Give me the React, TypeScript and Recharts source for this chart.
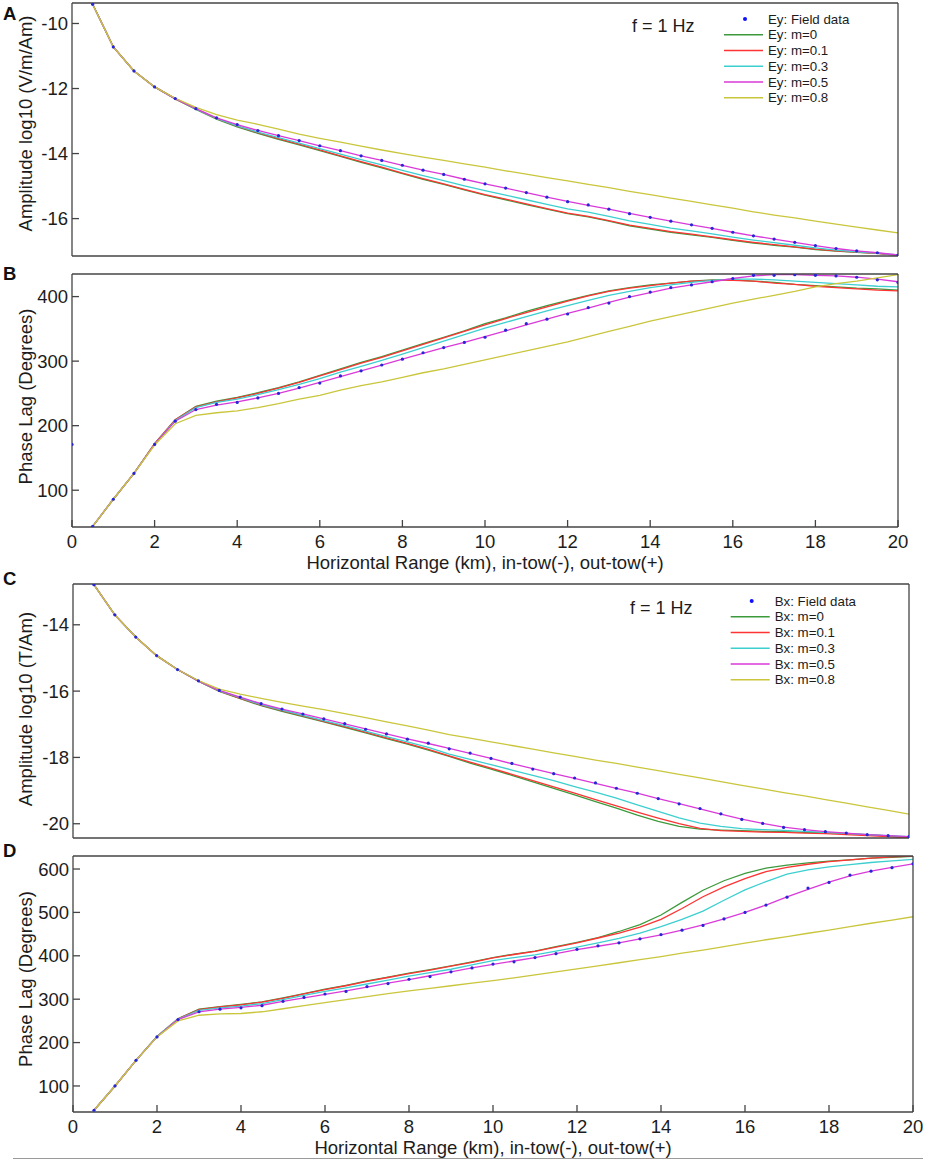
import React from 'react'
import { LineChart, Line, XAxis, YAxis, Legend } from 'recharts'

// ── Data ─────────────────────────────────────────────────────────────────────
// horizontal range in km (first row only carries a field value in panel B)
const RANGE_KM = [
  0, 0.5, 1, 1.5, 2, 2.5, 3, 3.5, 4, 4.5, 5, 5.5, 6, 6.5, 7, 7.5, 8, 8.5, 9, 9.5, 10,
  10.5, 11, 11.5, 12, 12.5, 13, 13.5, 14, 14.5, 15, 15.5, 16, 16.5, 17, 17.5, 18, 18.5, 19, 19.5, 20,
]

const X_TICKS = [0, 2, 4, 6, 8, 10, 12, 14, 16, 18, 20]

// A: Ey amplitude, log10 (V/m/Am)
const EY_AMP_FIELD = [null, -9.41, -10.72, -11.46, -11.95, -12.31, -12.62, -12.90, -13.11, -13.29, -13.45, -13.60, -13.76, -13.91, -14.07, -14.21, -14.36, -14.51, -14.64, -14.79, -14.93, -15.06, -15.20, -15.34, -15.48, -15.58, -15.71, -15.85, -15.96, -16.08, -16.19, -16.30, -16.42, -16.53, -16.63, -16.73, -16.83, -16.92, -16.99, -17.05, -17.12]
const EY_AMP_M0 = [null, -9.41, -10.72, -11.46, -11.95, -12.32, -12.64, -12.94, -13.18, -13.38, -13.56, -13.73, -13.91, -14.09, -14.27, -14.44, -14.62, -14.79, -14.95, -15.12, -15.28, -15.42, -15.57, -15.71, -15.85, -15.95, -16.08, -16.22, -16.32, -16.42, -16.50, -16.58, -16.67, -16.75, -16.82, -16.88, -16.95, -17.00, -17.04, -17.07, -17.13]
const EY_AMP_M01 = [null, -9.41, -10.72, -11.46, -11.95, -12.32, -12.63, -12.92, -13.16, -13.36, -13.54, -13.71, -13.89, -14.07, -14.25, -14.42, -14.60, -14.77, -14.93, -15.10, -15.26, -15.40, -15.55, -15.69, -15.83, -15.93, -16.06, -16.20, -16.30, -16.40, -16.48, -16.56, -16.65, -16.73, -16.80, -16.87, -16.94, -16.99, -17.03, -17.07, -17.13]
const EY_AMP_M03 = [null, -9.41, -10.72, -11.46, -11.95, -12.31, -12.63, -12.92, -13.15, -13.34, -13.51, -13.68, -13.85, -14.02, -14.19, -14.35, -14.52, -14.68, -14.83, -14.99, -15.14, -15.28, -15.42, -15.56, -15.70, -15.80, -15.93, -16.07, -16.18, -16.29, -16.38, -16.47, -16.57, -16.66, -16.74, -16.82, -16.90, -16.97, -17.02, -17.06, -17.12]
const EY_AMP_M05 = [null, -9.41, -10.72, -11.46, -11.95, -12.31, -12.62, -12.90, -13.11, -13.29, -13.45, -13.60, -13.76, -13.91, -14.07, -14.21, -14.36, -14.51, -14.64, -14.79, -14.93, -15.06, -15.20, -15.34, -15.47, -15.59, -15.71, -15.84, -15.96, -16.08, -16.19, -16.30, -16.42, -16.53, -16.63, -16.73, -16.83, -16.92, -16.99, -17.05, -17.12]
const EY_AMP_M08 = [null, -9.41, -10.72, -11.46, -11.95, -12.30, -12.58, -12.80, -12.97, -13.10, -13.25, -13.40, -13.53, -13.65, -13.77, -13.89, -14.00, -14.11, -14.21, -14.32, -14.42, -14.53, -14.63, -14.74, -14.84, -14.95, -15.05, -15.16, -15.26, -15.37, -15.47, -15.58, -15.68, -15.79, -15.89, -15.98, -16.08, -16.17, -16.26, -16.35, -16.44]

// B: Ey phase lag (degrees)
const EY_PHA_FIELD = [171, 44, 86, 126, 171, 207, 225, 233, 236, 243, 250, 259, 266, 277, 285, 294, 303, 313, 321, 329, 337, 348, 358, 365, 373, 383, 390, 400, 407, 414, 418, 423, 428, 433, 433, 434, 433, 432, 430, 426, 422]
const EY_PHA_M0 = [null, 44, 86, 126, 172, 209, 230, 238, 244, 251, 259, 268, 278, 288, 298, 307, 317, 327, 337, 347, 358, 367, 377, 386, 394, 402, 409, 414, 418, 421, 424, 426, 426, 424, 422, 419, 417, 415, 413, 412, 410]
const EY_PHA_M01 = [null, 44, 86, 126, 172, 209, 229, 237, 243, 250, 258, 267, 277, 287, 297, 306, 316, 326, 336, 346, 356, 366, 375, 384, 393, 401, 408, 413, 417, 421, 424, 425, 425, 424, 421, 419, 416, 414, 412, 410, 409]
const EY_PHA_M03 = [null, 44, 86, 126, 171, 208, 228, 236, 241, 248, 256, 264, 273, 283, 292, 301, 311, 321, 331, 341, 351, 360, 369, 378, 386, 394, 402, 408, 414, 418, 422, 425, 427, 427, 426, 424, 422, 420, 418, 416, 415]
const EY_PHA_M05 = [null, 44, 86, 126, 171, 207, 225, 232, 237, 243, 250, 258, 267, 276, 285, 294, 303, 312, 321, 329, 338, 347, 356, 365, 374, 382, 391, 399, 406, 413, 418, 423, 428, 432, 434, 434, 433, 432, 430, 427, 423]
const EY_PHA_M08 = [null, 44, 86, 126, 170, 203, 216, 220, 223, 228, 234, 241, 247, 255, 262, 268, 275, 282, 288, 295, 302, 309, 316, 323, 330, 338, 346, 354, 362, 369, 376, 383, 390, 396, 402, 408, 415, 420, 424, 429, 434]

// C: Bx amplitude, log10 (T/Am)
const BX_AMP_FIELD = [null, -12.79, -13.70, -14.37, -14.93, -15.35, -15.69, -15.98, -16.18, -16.38, -16.54, -16.69, -16.84, -16.98, -17.15, -17.29, -17.45, -17.57, -17.74, -17.87, -18.03, -18.18, -18.35, -18.49, -18.62, -18.77, -18.93, -19.08, -19.24, -19.40, -19.54, -19.70, -19.87, -19.99, -20.11, -20.18, -20.24, -20.28, -20.33, -20.36, -20.39]
const BX_AMP_M0 = [null, -12.79, -13.70, -14.37, -14.93, -15.35, -15.70, -16.01, -16.23, -16.44, -16.61, -16.77, -16.93, -17.09, -17.26, -17.43, -17.60, -17.78, -17.97, -18.17, -18.35, -18.54, -18.74, -18.93, -19.13, -19.33, -19.53, -19.74, -19.93, -20.08, -20.16, -20.19, -20.21, -20.23, -20.24, -20.26, -20.27, -20.30, -20.33, -20.37, -20.41]
const BX_AMP_M01 = [null, -12.79, -13.70, -14.37, -14.93, -15.35, -15.70, -16.00, -16.22, -16.42, -16.59, -16.75, -16.91, -17.07, -17.24, -17.41, -17.58, -17.76, -17.95, -18.14, -18.32, -18.51, -18.70, -18.89, -19.08, -19.27, -19.46, -19.65, -19.83, -20.00, -20.14, -20.21, -20.23, -20.25, -20.26, -20.28, -20.30, -20.33, -20.36, -20.39, -20.43]
const BX_AMP_M03 = [null, -12.79, -13.70, -14.37, -14.93, -15.35, -15.69, -15.99, -16.20, -16.41, -16.57, -16.73, -16.89, -17.04, -17.21, -17.37, -17.53, -17.70, -17.90, -18.06, -18.22, -18.38, -18.54, -18.70, -18.88, -19.05, -19.23, -19.43, -19.63, -19.82, -19.98, -20.08, -20.15, -20.18, -20.20, -20.23, -20.26, -20.29, -20.33, -20.36, -20.39]
const BX_AMP_M05 = [null, -12.79, -13.70, -14.37, -14.93, -15.35, -15.69, -15.98, -16.18, -16.38, -16.54, -16.69, -16.84, -16.99, -17.14, -17.29, -17.44, -17.58, -17.73, -17.88, -18.03, -18.19, -18.34, -18.49, -18.63, -18.78, -18.93, -19.08, -19.24, -19.39, -19.55, -19.71, -19.86, -19.99, -20.10, -20.18, -20.24, -20.28, -20.33, -20.36, -20.39]
const BX_AMP_M08 = [null, -12.79, -13.70, -14.37, -14.93, -15.35, -15.68, -15.94, -16.09, -16.22, -16.34, -16.45, -16.56, -16.68, -16.80, -16.93, -17.05, -17.18, -17.31, -17.42, -17.53, -17.64, -17.75, -17.86, -17.97, -18.08, -18.18, -18.29, -18.40, -18.51, -18.62, -18.73, -18.84, -18.95, -19.06, -19.16, -19.27, -19.38, -19.49, -19.60, -19.71]

// D: Bx phase lag (degrees)
const BX_PHA_FIELD = [null, 44, 100, 159, 213, 253, 271, 277, 280, 285, 295, 304, 312, 318, 329, 336, 346, 352, 363, 372, 381, 386, 396, 405, 415, 423, 430, 439, 449, 459, 470, 485, 500, 517, 535, 556, 569, 586, 595, 603, 612]
const BX_PHA_M0 = [null, 44, 100, 159, 214, 255, 277, 283, 288, 294, 303, 313, 323, 332, 342, 351, 360, 368, 377, 386, 396, 404, 411, 421, 431, 442, 456, 472, 494, 523, 551, 573, 590, 602, 609, 614, 618, 621, 625, 627, 629]
const BX_PHA_M01 = [null, 44, 100, 159, 214, 255, 276, 282, 287, 293, 302, 312, 322, 331, 341, 350, 359, 367, 376, 385, 395, 403, 410, 420, 430, 441, 452, 466, 484, 509, 536, 559, 578, 594, 604, 611, 617, 621, 625, 628, 630]
const BX_PHA_M03 = [null, 44, 100, 159, 214, 254, 274, 280, 284, 290, 299, 309, 318, 326, 335, 344, 353, 361, 369, 379, 389, 396, 402, 411, 420, 430, 440, 452, 467, 484, 503, 528, 552, 571, 588, 598, 605, 610, 615, 619, 622]
const BX_PHA_M05 = [null, 44, 100, 159, 213, 253, 271, 277, 281, 286, 295, 303, 311, 319, 328, 337, 345, 354, 363, 372, 380, 388, 396, 405, 414, 422, 430, 439, 448, 459, 471, 485, 500, 517, 536, 553, 570, 584, 595, 604, 612]
const BX_PHA_M08 = [null, 44, 100, 159, 213, 250, 263, 266, 267, 271, 278, 285, 292, 299, 306, 313, 319, 325, 331, 337, 343, 349, 356, 363, 370, 377, 384, 391, 398, 406, 413, 421, 429, 437, 444, 452, 459, 467, 475, 482, 490]

// ── Styling ──────────────────────────────────────────────────────────────────
const FONT = '"Liberation Sans", Arial, Helvetica, sans-serif'
const INK = '#1c1c1c'
const AXIS = '#444444'
const PAGE_W = 927

const SERIES = [
  { key: 'm0',  label: 'm=0',   color: '#3c9a3c' },
  { key: 'm01', label: 'm=0.1', color: '#ff3333' },
  { key: 'm03', label: 'm=0.3', color: '#3dcfcf' },
  { key: 'm05', label: 'm=0.5', color: '#d93ad9' },
  { key: 'm08', label: 'm=0.8', color: '#c9c63c' },
]
const FIELD_COLOR = '#2626d6'

type Num = number | null

function buildRows(field: Num[], m0: Num[], m01: Num[], m03: Num[], m05: Num[], m08: Num[]) {
  return RANGE_KM.map((x, i) => ({
    x, field: field[i], m0: m0[i], m01: m01[i], m03: m03[i], m05: m05[i], m08: m08[i],
  }))
}

// ── Legend (drawn through Recharts' Legend slot) ─────────────────────────────
function FigureLegend({ prefix, shift, fx }: { prefix: string; shift: number; fx: number }) {
  const rowGap = 15.75
  const rowY = (i: number) => 10 + i * rowGap
  const dotX = 125 + shift
  return (
    <svg width={300} height={110} style={{ overflow: 'visible', fontFamily: FONT }}>
      <text x={fx} y={22.5} fontSize={18} fill={INK}>f = 1 Hz</text>
      <circle cx={dotX} cy={rowY(0)} r={2} fill="#1010ff" />
      <text x={dotX + 23} y={rowY(0) + 4.7} fontSize={13.3} fill={INK}>{prefix}: Field data</text>
      {SERIES.map((s, i) => (
        <g key={s.key}>
          <line x1={dotX - 21} x2={dotX + 18} y1={rowY(i + 1)} y2={rowY(i + 1)} stroke={s.color} strokeWidth={1.6} />
          <text x={dotX + 23} y={rowY(i + 1) + 4.7} fontSize={13.3} fill={INK}>{prefix}: {s.label}</text>
        </g>
      ))}
    </svg>
  )
}

// ── One stacked panel ────────────────────────────────────────────────────────
interface PanelProps {
  rows: ReturnType<typeof buildRows>
  top: number
  bottom: number
  left: number
  right: number
  domain: [number, number]
  yTicks: number[]
  yLabel: string
  labelShift: number
  withXLabels: boolean
  legend?: { prefix: string; shift: number; top: number; fx: number }
}

function Panel({ rows, top, bottom, left, right, domain, yTicks, yLabel, labelShift, withXLabels, legend }: PanelProps) {
  const padTop = 10
  const padBottom = withXLabels ? 52 : 10
  const tickStyle = { fontSize: 18.5, fill: INK, fontFamily: FONT }
  const line = { stroke: AXIS, strokeWidth: 1.3 }

  const yLabelContent = ({ viewBox }: any) => {
    const cy = viewBox.y + viewBox.height / 2 + labelShift
    return (
      <text x={32} y={cy} transform={`rotate(-90 32 ${cy})`} textAnchor="middle"
        fontSize={18.5} fill={INK} fontFamily={FONT}>{yLabel}</text>
    )
  }

  const xLabelContent = ({ viewBox }: any) => (
    <text x={viewBox.x + viewBox.width / 2} y={viewBox.y + 41.7} textAnchor="middle"
      fontSize={18.5} fill={INK} fontFamily={FONT}>
      Horizontal Range (km), in-tow(-), out-tow(+)
    </text>
  )

  return (
    <div style={{ position: 'absolute', left: 0, top: top - padTop }}>
      <LineChart
        width={PAGE_W}
        height={padTop + (bottom - top) + padBottom}
        data={rows}
        margin={{ top: 0, right: 0, bottom: 0, left: 0 }}
      >
        <XAxis xAxisId="b" dataKey="x" type="number" domain={[0, 20]} ticks={X_TICKS}
          height={padBottom} tickSize={-7} tickMargin={15}
          tick={withXLabels ? tickStyle : false}
          axisLine={line} tickLine={line} allowDataOverflow
          label={withXLabels ? { content: xLabelContent } : undefined} />
        <XAxis xAxisId="t" orientation="top" dataKey="x" type="number" domain={[0, 20]} ticks={X_TICKS}
          height={padTop} tickSize={-7} tick={false} axisLine={line} tickLine={line} allowDataOverflow />
        <YAxis yAxisId="l" type="number" domain={domain} ticks={yTicks} width={left}
          tickSize={-7} tickMargin={11} tick={tickStyle} axisLine={line} tickLine={line}
          allowDataOverflow label={{ content: yLabelContent }} />
        <YAxis yAxisId="r" orientation="right" type="number" domain={domain} ticks={yTicks}
          width={PAGE_W - right} tickSize={-7} tick={false} axisLine={line} tickLine={line} allowDataOverflow />

        {SERIES.map(s => (
          <Line key={s.key} xAxisId="b" yAxisId="l" type="linear" dataKey={s.key}
            stroke={s.color} strokeWidth={1.3} dot={false} activeDot={false}
            isAnimationActive={false} />
        ))}
        <Line xAxisId="b" yAxisId="l" type="linear" dataKey="field" stroke="none"
          dot={{ r: 1.6, fill: FIELD_COLOR, stroke: 'none' }} activeDot={false}
          isAnimationActive={false} />

        {legend && (
          <Legend layout="vertical" align="center" verticalAlign="middle"
            wrapperStyle={{ left: 620, top: legend.top, width: 300, height: 110 }}
            content={() => <FigureLegend prefix={legend.prefix} shift={legend.shift} fx={legend.fx} />} />
        )}
      </LineChart>
    </div>
  )
}

// ── Page ─────────────────────────────────────────────────────────────────────
export default function App() {
  const eyAmp = buildRows(EY_AMP_FIELD, EY_AMP_M0, EY_AMP_M01, EY_AMP_M03, EY_AMP_M05, EY_AMP_M08)
  const eyPha = buildRows(EY_PHA_FIELD, EY_PHA_M0, EY_PHA_M01, EY_PHA_M03, EY_PHA_M05, EY_PHA_M08)
  const bxAmp = buildRows(BX_AMP_FIELD, BX_AMP_M0, BX_AMP_M01, BX_AMP_M03, BX_AMP_M05, BX_AMP_M08)
  const bxPha = buildRows(BX_PHA_FIELD, BX_PHA_M0, BX_PHA_M01, BX_PHA_M03, BX_PHA_M05, BX_PHA_M08)

  const letter = { fontSize: 18.5, fontWeight: 700, fill: '#111', fontFamily: FONT }

  return (
    <div style={{ position: 'absolute', left: 0, top: 0, width: PAGE_W, height: 1161, background: '#fff' }}>
      <Panel rows={eyAmp} top={3} bottom={256} left={72} right={898}
        domain={[-17.15, -9.37]} yTicks={[-16, -14, -12, -10]}
        yLabel="Amplitude log10 (V/m/Am)" labelShift={-6} withXLabels={false}
        legend={{ prefix: 'Ey', shift: 0, top: 16, fx: 12 }} />
      <Panel rows={eyPha} top={274} bottom={527} left={72} right={898}
        domain={[43, 435]} yTicks={[100, 200, 300, 400]}
        yLabel="Phase Lag (Degrees)" labelShift={-4} withXLabels />
      <Panel rows={bxAmp} top={584} bottom={838} left={73} right={909}
        domain={[-20.43, -12.77]} yTicks={[-20, -18, -16, -14]}
        yLabel="Amplitude log10 (T/Am)" labelShift={-2} withXLabels={false}
        legend={{ prefix: 'Bx', shift: 6.7, top: 16.7, fx: 10 }} />
      <Panel rows={bxPha} top={856} bottom={1112} left={73} right={913}
        domain={[40, 630]} yTicks={[100, 200, 300, 400, 500, 600]}
        yLabel="Phase Lag (Degrees)" labelShift={-5} withXLabels />

      <svg width={PAGE_W} height={1161} style={{ position: 'absolute', left: 0, top: 0, pointerEvents: 'none' }}>
        <text x={3} y={20} {...letter}>A</text>
        <text x={3} y={280} {...letter}>B</text>
        <text x={3} y={585} {...letter}>C</text>
        <text x={3} y={857} {...letter}>D</text>
        <line x1={13} x2={923} y1={1158.5} y2={1158.5} stroke="#9a9a9a" strokeWidth={1} />
      </svg>
    </div>
  )
}
